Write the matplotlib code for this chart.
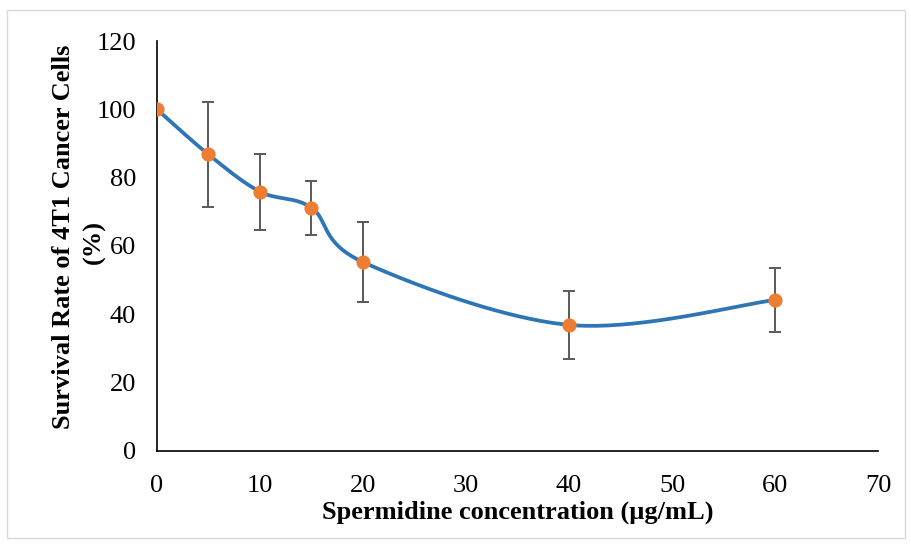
import numpy as np
import matplotlib.pyplot as plt
from matplotlib.patches import Rectangle

conc = [0, 5, 10, 15, 20, 40, 60]
survival = [100, 86.8, 75.9, 71.2, 55.3, 36.9, 44.2]
err = [0, 15.4, 11.1, 7.9, 11.7, 9.9, 9.5]


def smooth(xs, ys, n=40):
    # Excel-style smoothed line (cardinal bezier through the points)
    p = np.column_stack([xs, ys]).astype(float)
    p = np.vstack([p[0], p, p[-1]])
    out = []
    t = np.linspace(0, 1, n)[:, None]
    for i in range(1, len(p) - 2):
        p0, p1, p2, p3 = p[i - 1], p[i], p[i + 1], p[i + 2]
        c1 = p1 + (p2 - p0) / 6
        c2 = p2 - (p3 - p1) / 6
        seg = ((1 - t) ** 3 * p1 + 3 * (1 - t) ** 2 * t * c1
               + 3 * (1 - t) * t ** 2 * c2 + t ** 3 * p2)
        out.append(seg)
    out = np.vstack(out)
    return out[:, 0], out[:, 1]


plt.rcParams['font.family'] = ['Liberation Serif', 'DejaVu Serif']

W, H = 911, 544
fig = plt.figure(figsize=(W / 100, H / 100), dpi=100)
ax = fig.add_axes([0.1723, 0.171, 0.7915, 0.7536])

sx, sy = smooth(conc, survival)
ax.plot(sx, sy, color='#2E75B6', lw=2.7, zorder=2)
ax.errorbar(conc, survival, yerr=err, fmt='none', ecolor='#595959',
            elinewidth=1.4, capsize=4.5, capthick=1.4, zorder=3)
ax.plot(conc, survival, 'o', color='#ED7D31', ms=9.2, zorder=4)

ax.set_xlim(0, 70)
ax.set_ylim(0, 120)
ax.set_xticks(range(0, 71, 10))
ax.set_yticks(range(0, 121, 20))
ax.tick_params(length=0, labelsize=19)
ax.tick_params(axis='y', pad=15)
ax.tick_params(axis='x', pad=17)
for s in ['top', 'right']:
    ax.spines[s].set_visible(False)
for s in ['left', 'bottom']:
    ax.spines[s].set_color('black')
    ax.spines[s].set_linewidth(1.2)

ax.set_xlabel('Spermidine concentration (µg/mL)', fontsize=19,
              fontweight='bold')
ax.xaxis.set_label_coords(0.5, -0.12)

# y label as two separate lines, like the Excel original
fig.text(64 / W, 1 - 237 / H, 'Survival Rate of 4T1 Cancer Cells',
         rotation=90, ha='center', va='center', fontsize=19, fontweight='bold')
fig.text(94 / W, 1 - 242 / H, '(%)', rotation=90, ha='center', va='center',
         fontsize=19, fontweight='bold')

fig.patches.append(Rectangle((7 / W, 1 - 538 / H), 898 / W, 528 / H,
                             transform=fig.transFigure, fill=False,
                             edgecolor='#D9D9D9', lw=1))

fig.savefig('out.png', dpi=100)
